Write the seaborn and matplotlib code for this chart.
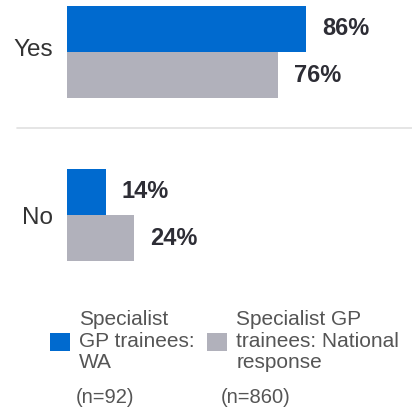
import matplotlib
matplotlib.use("Agg")
import matplotlib.pyplot as plt
import matplotlib.transforms as mtransforms
import pandas as pd
import seaborn as sns
from matplotlib.lines import Line2D

# data
answers = ['Yes', 'No']
wa_pct = [86, 14]
national_pct = [76, 24]
groups = ['Specialist\nGP trainees:\nWA', 'Specialist GP\ntrainees: National\nresponse']
sample_sizes = ['(n=92)', '(n=860)']
colors = ['#006ACF', '#B1B1BB']

df = pd.DataFrame({
    'answer': answers * 2,
    'pct': wa_pct + national_pct,
    'group': [groups[0]] * 2 + [groups[1]] * 2,
})

sns.set_style('white')
plt.rcParams['font.family'] = ['Liberation Sans', 'DejaVu Sans']

W, H = 412, 411
fig = plt.figure(figsize=(W / 100, H / 100), dpi=100)
# axes placed in pixel terms: left edge at 67px, top 0, bottom 290
ax = fig.add_axes([67 / W, 1 - 290 / H, 1 - 67 / W, 290 / H])

sns.barplot(data=df, y='answer', x='pct', hue='group', order=answers,
            hue_order=groups, palette=colors, width=0.57, orient='h',
            saturation=1, linewidth=0, ax=ax)

ax.set_xlim(0, 124)
ax.set_ylim((290 - 52) / 163, -52 / 163)
sns.despine(ax=ax, left=True, bottom=True)
ax.set_xticks([])
ax.set_xlabel('')
ax.set_ylabel('')
ax.tick_params(axis='y', length=0, pad=10, labelsize=17.5, labelcolor='#333333')
# the "Yes" label sits a little above its bar pair in the original
yes_lbl = ax.get_yticklabels()[0]
yes_lbl.set_transform(yes_lbl.get_transform() +
                      mtransforms.ScaledTranslation(0, 5 / 100, fig.dpi_scale_trans))

for cont in ax.containers:
    ax.bar_label(cont, labels=[f'{v:.0f}%' for v in cont.datavalues],
                 padding=11.5, fontsize=17, fontweight='bold', color='#2D2D35')

# separator between Yes and No
fig.add_artist(Line2D([17 / W, 1], [1 - 128.5 / H] * 2, color='#E0E0E0', lw=1.2))

sns.move_legend(ax, 'upper left', bbox_to_anchor=(50 / W, 1 - 310 / H),
                bbox_transform=fig.transFigure, ncol=2, frameon=False, title=None,
                fontsize=15, handlelength=0.95, handleheight=0.95,
                handletextpad=0.45, columnspacing=0.6, borderpad=0, borderaxespad=0,
                labelcolor='#555555')
for t in ax.get_legend().get_texts():
    t.set_linespacing(1.18)

fig.text(76 / W, 1 - 397 / H, sample_sizes[0], fontsize=14.5, color='#555555', va='center')
fig.text(221 / W, 1 - 397 / H, sample_sizes[1], fontsize=14.5, color='#555555', va='center')

fig.savefig('out.png', dpi=100)
